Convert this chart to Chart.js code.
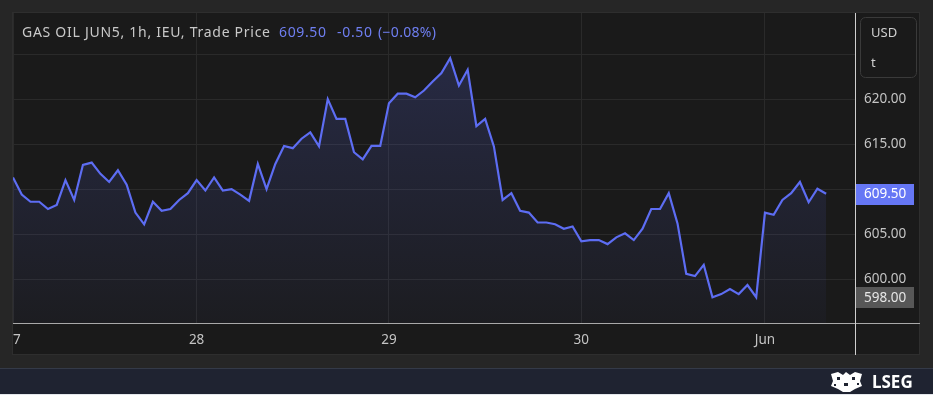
<!DOCTYPE html>
<html><head><meta charset="utf-8">
<script src="https://cdn.jsdelivr.net/npm/chart.js@4/dist/chart.umd.min.js"></script>
<style>html,body{margin:0;padding:0;background:#262626;overflow:hidden}canvas{display:block}</style>
</head><body>
<div style="width:933px;height:395px;position:relative"><canvas id="c" width="933" height="395"></canvas></div>
<script>
// ---- data (hourly trade price) ----
const prices = [
  611.3, 609.4, 608.6, 608.6, 607.8, 608.25, 611.0, 608.8, 612.7, 612.95,
  611.7, 610.8, 612.1, 610.5, 607.4, 606.1, 608.6, 607.6, 607.8, 608.8,
  609.55, 611.0, 609.85, 611.3, 609.85, 610.0, 609.4, 608.7, 612.8, 610.0,
  612.8, 614.8, 614.55, 615.6, 616.3, 614.75, 620.0, 617.8, 617.8, 614.1,
  613.3, 614.8, 614.8, 619.55, 620.6, 620.6, 620.2, 620.95, 621.95, 622.9,
  624.55, 621.5, 623.25, 617.0, 617.8, 614.75, 608.8, 609.55, 607.6, 607.4,
  606.3, 606.3, 606.1, 605.6, 605.85, 604.2, 604.35, 604.35, 603.9, 604.65,
  605.1, 604.35, 605.6, 607.8, 607.8, 609.55, 606.2, 600.6, 600.35, 601.6,
  598.0, 598.35, 598.9, 598.35, 599.35, 598.0, 607.4, 607.15, 608.8, 609.55,
  610.8, 608.55, 610.05, 609.5
];
const dayLabels = ['27', '28', '29', '30', 'Jun'];
const dayStartIndex = [0, 21, 43, 65, 86];
const yTickValues = [600, 605, 610, 615, 620, 625];
const titleText = 'GAS OIL JUN5, 1h, IEU, Trade Price';
const lastPrice = 609.50;
const changeText = '-0.50';
const changePctText = '(\u22120.08%)';
const lowPrice = 598.00;
const unitLines = ['USD', 't'];
const brandText = 'LSEG';

const FONT = '"Noto Sans", "Open Sans", sans-serif';
const LINE = '#5d6df3';

function fitText(ctx, text, x, y, size, targetW) {
  ctx.font = size + 'px ' + FONT;
  const w = ctx.measureText(text).width;
  const sp = (targetW - w) / Math.max(1, text.length - 1);
  if ('letterSpacing' in ctx) {
    ctx.letterSpacing = sp.toFixed(2) + 'px';
    ctx.fillText(text, x, y);
    ctx.letterSpacing = '0px';
  } else {
    ctx.font = (size * targetW / w).toFixed(2) + 'px ' + FONT;
    ctx.fillText(text, x, y);
  }
}

const decor = {
  id: 'decor',
  beforeDraw(chart) {
    const ctx = chart.ctx;
    ctx.save();
    ctx.fillStyle = '#262626'; ctx.fillRect(0, 0, 933, 395);
    ctx.fillStyle = '#1a1a1a'; ctx.fillRect(12, 12, 908, 343);
    ctx.strokeStyle = '#2e2e2e'; ctx.lineWidth = 1;
    ctx.strokeRect(12.5, 12.5, 907, 342);
    ctx.fillStyle = '#1f2331'; ctx.fillRect(0, 368, 933, 27);
    ctx.fillStyle = '#343a48'; ctx.fillRect(0, 368, 933, 1);
    ctx.fillStyle = '#e4e7ec'; ctx.fillRect(0, 394, 933, 1);
    ctx.restore();
  },
  afterDraw(chart) {
    const ctx = chart.ctx;
    const y = chart.scales.y;
    const a = chart.chartArea;
    ctx.save();
    // clip left overflow (partial "27")
    ctx.fillStyle = '#262626'; ctx.fillRect(0, 12, 12, 343);
    ctx.fillStyle = '#2e2e2e'; ctx.fillRect(12, 12, 1, 343);
    // axis lines
    ctx.fillStyle = '#a9a9a9'; ctx.fillRect(13, Math.round(a.bottom), 907, 1);
    ctx.fillStyle = '#cfcfcf'; ctx.fillRect(Math.round(a.right), 13, 1, 342);
    // title
    ctx.textBaseline = 'middle';
    ctx.fillStyle = '#c9c9c9';
    fitText(ctx, titleText, 22, 33, 14, 248);
    ctx.fillStyle = '#6f7ff2';
    fitText(ctx, lastPrice.toFixed(2), 279, 33, 14, 47);
    fitText(ctx, changeText, 337, 33, 14, 35);
    fitText(ctx, changePctText, 378, 33, 14, 58);
    // unit box
    ctx.fillStyle = '#1a1a1a';
    ctx.strokeStyle = '#3a3a3a';
    ctx.beginPath(); ctx.roundRect(860.5, 17.5, 56, 60, 5); ctx.fill(); ctx.stroke();
    ctx.fillStyle = '#d0d0d0';
    ctx.font = '13px ' + FONT;
    ctx.fillText(unitLines[0], 871, 33);
    ctx.fillText(unitLines[1], 871, 63);
    // price labels
    const yl = y.getPixelForValue(lowPrice);
    ctx.fillStyle = '#575757'; ctx.fillRect(856, Math.round(yl - 10), 58, 21);
    ctx.fillStyle = '#e6e6e6'; ctx.font = '13.5px ' + FONT;
    ctx.fillText(lowPrice.toFixed(2), 864, yl + 0.5);
    const yp = y.getPixelForValue(lastPrice);
    ctx.fillStyle = '#6677f5'; ctx.fillRect(856, Math.round(yp - 10), 58, 21);
    ctx.fillStyle = '#ffffff';
    ctx.fillText(lastPrice.toFixed(2), 864, yp + 0.5);
    // brand
    ctx.fillStyle = '#ffffff';
    ctx.font = 'bold 17px ' + FONT;
    ctx.textBaseline = 'alphabetic';
    ctx.fillText(brandText, 872, 388);
    // crest emblem (simplified)
    ctx.beginPath();
    ctx.moveTo(831, 374); ctx.lineTo(838, 372); ctx.lineTo(843, 375); ctx.lineTo(846, 372);
    ctx.lineTo(850, 375); ctx.lineTo(855, 372); ctx.lineTo(862, 374); ctx.lineTo(860, 381);
    ctx.lineTo(862, 386); ctx.lineTo(855, 389); ctx.lineTo(850, 392); ctx.lineTo(843, 392);
    ctx.lineTo(838, 389); ctx.lineTo(831, 386); ctx.lineTo(833, 381); ctx.closePath();
    ctx.fill();
    ctx.fillStyle = '#1f2331';
    ctx.fillRect(837, 377, 3, 3); ctx.fillRect(852, 377, 3, 3); ctx.fillRect(844, 383, 4, 3);
    ctx.fillRect(834, 384, 2, 2); ctx.fillRect(857, 383, 2, 2);
    ctx.restore();
  }
};

const ctx = document.getElementById('c').getContext('2d');
new Chart(ctx, {
  type: 'line',
  data: {
    datasets: [{
      data: prices.map((p, i) => ({ x: i, y: p })),
      borderColor: LINE,
      borderWidth: 2.2,
      pointRadius: 0,
      tension: 0,
      fill: 'start',
      backgroundColor(c) {
        const a = c.chart.chartArea;
        if (!a) return 'rgba(93,109,243,0.1)';
        const g = c.chart.ctx.createLinearGradient(0, a.top, 0, a.bottom);
        g.addColorStop(0, 'rgba(93,109,243,0.22)');
        g.addColorStop(1, 'rgba(93,109,243,0.03)');
        return g;
      }
    }]
  },
  options: {
    responsive: false,
    animation: false,
    devicePixelRatio: 1,
    layout: { padding: { left: 13, top: 13, right: 0, bottom: 0 } },
    plugins: { legend: { display: false }, tooltip: { enabled: false } },
    scales: {
      x: {
        type: 'linear',
        min: 0,
        max: 96.3,
        afterBuildTicks(s) { s.ticks = dayStartIndex.map(v => ({ value: v })); },
        afterFit(s) { s.height = 72; s.paddingLeft = 0; s.paddingRight = 0; },
        grid: { color: '#2a2a2a', drawTicks: false },
        border: { display: false },
        ticks: {
          color: '#c4c4c4',
          font: { family: FONT, size: 13.5 },
          padding: 9,
          maxRotation: 0,
          autoSkip: false,
          callback(v) { const k = dayStartIndex.indexOf(v); return k >= 0 ? dayLabels[k] : ''; }
        }
      },
      y: {
        position: 'right',
        min: 595.14,
        max: 629.56,
        afterBuildTicks(s) { s.ticks = yTickValues.map(v => ({ value: v })); },
        afterFit(s) { s.width = 78; s.paddingTop = 0; s.paddingBottom = 0; },
        grid: { color: '#2a2a2a', drawTicks: false },
        border: { display: false },
        ticks: {
          color: '#c4c4c4',
          font: { family: FONT, size: 13.5 },
          padding: 9,
          crossAlign: 'near',
          // labels hidden where the last-price marker covers them
          callback(v) { return Math.abs(v - lastPrice) < 1.5 ? '' : Number(v).toFixed(2); }
        }
      }
    }
  },
  plugins: [decor]
});
</script>
</body></html>
